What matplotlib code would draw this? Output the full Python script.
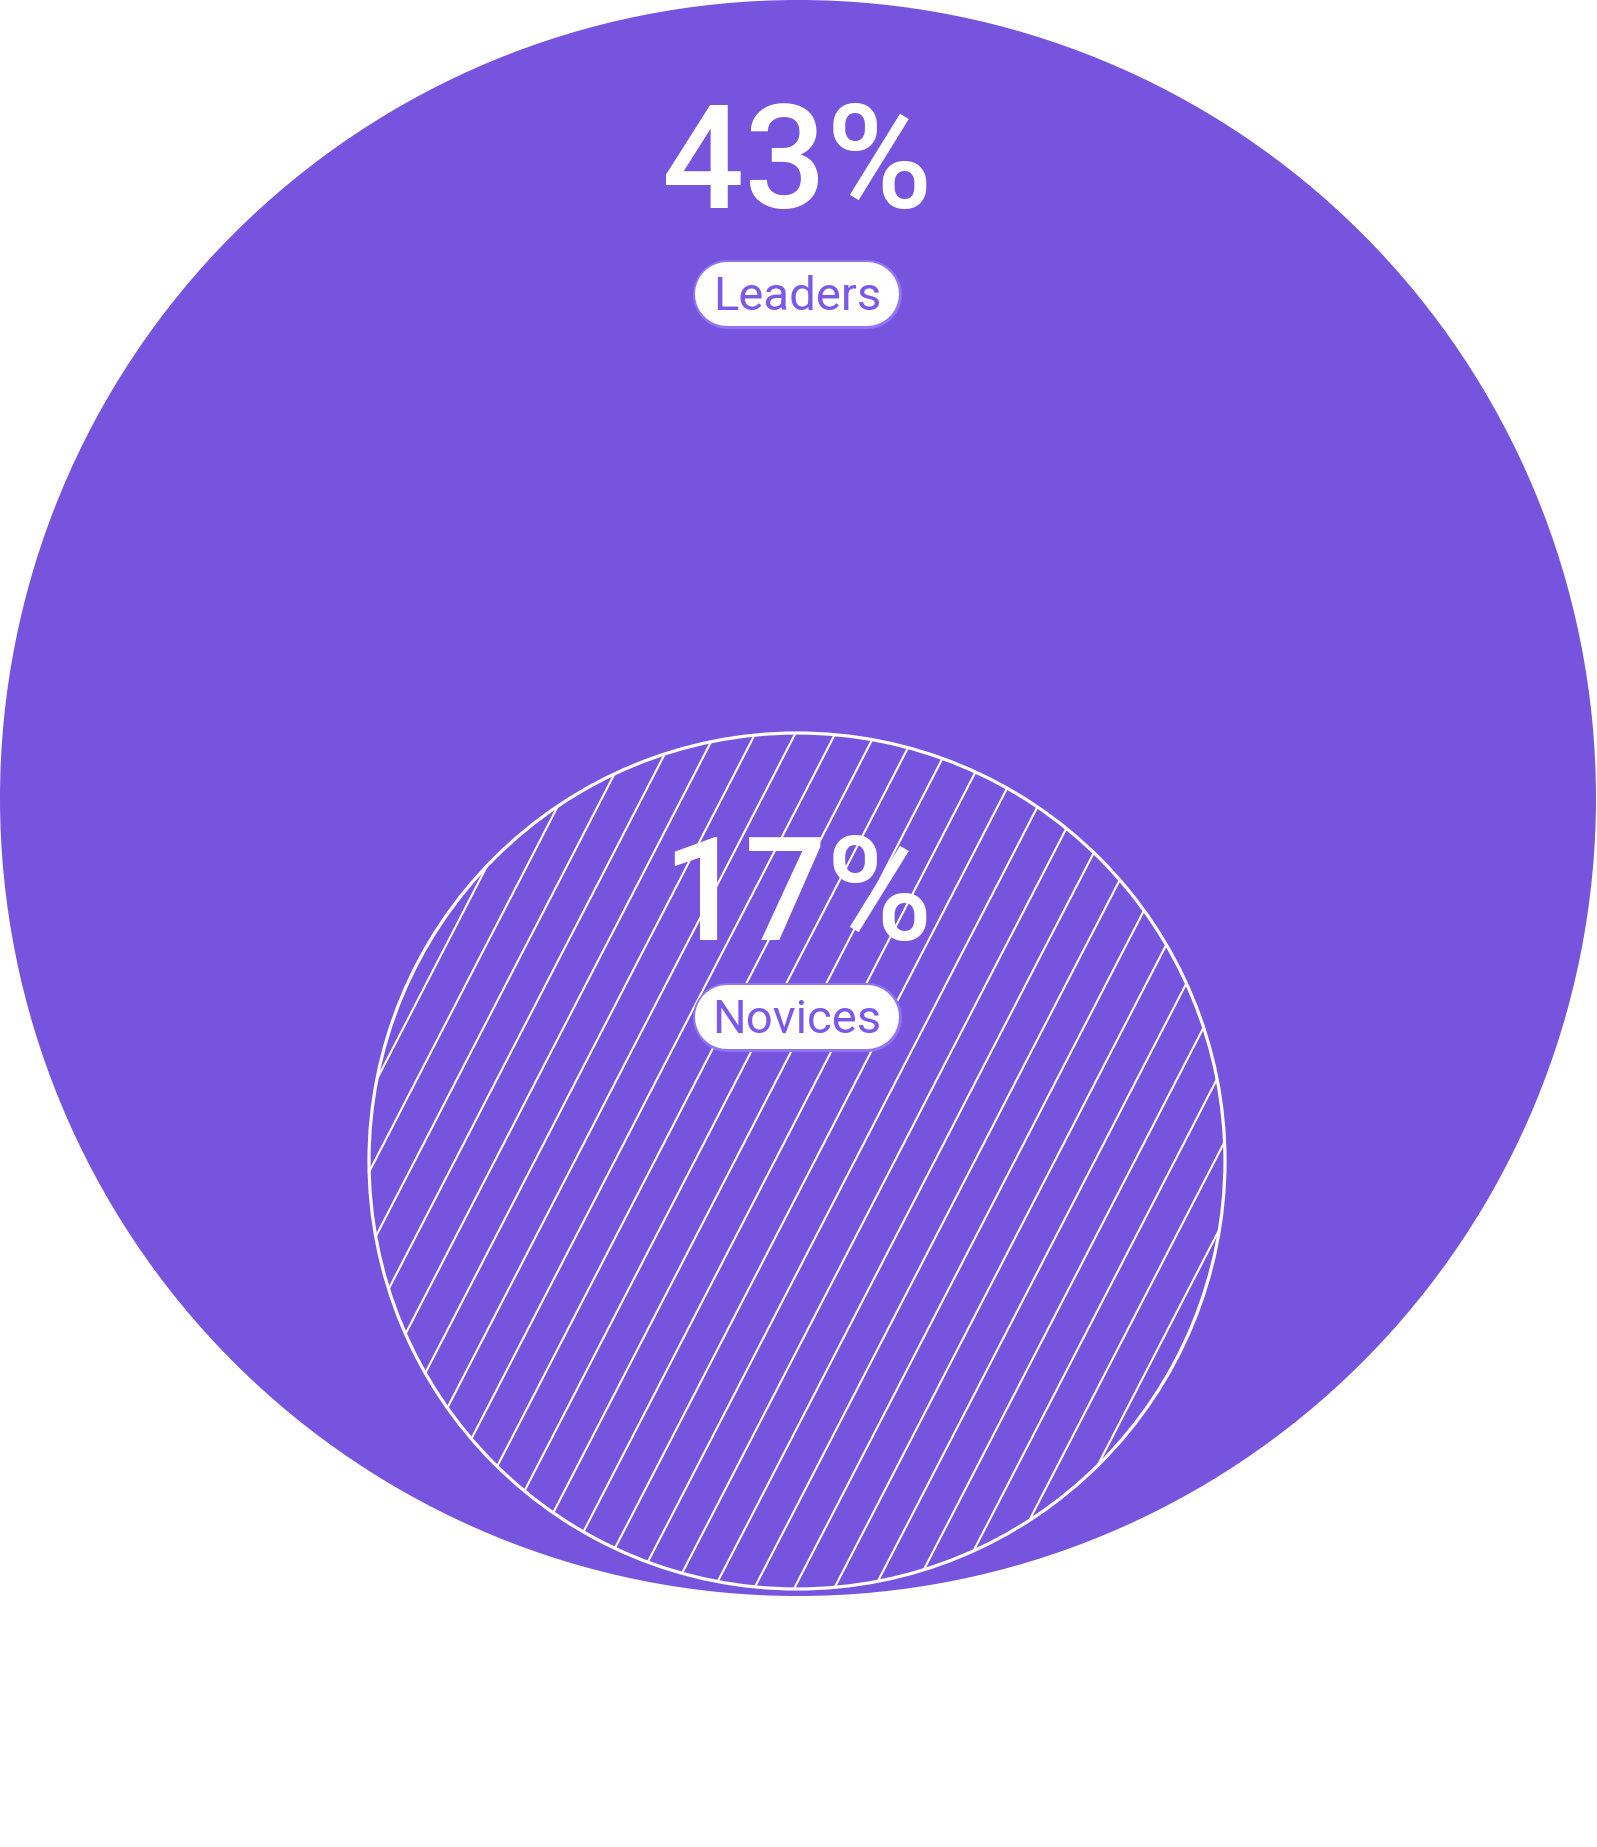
import numpy as np
import matplotlib
matplotlib.use("Agg")
import matplotlib.pyplot as plt
from matplotlib.patches import Circle

# ---- data ----
categories = ["Leaders", "Novices"]
values = [43, 17]
value_labels = [f"{v}%" for v in values]

# ---- layout (pixels, y down) ----
W, H = 1597, 1847
DPI = 100
PX = 72.0 / DPI  # points per pixel
PURPLE = "#7754DE"
TEXT_PURPLE = "#7B58EA"
PILL_EDGE = "#9274F2"
FONT = ["Roboto", "DejaVu Sans"]

circle_centers = [(798, 798), (797, 1161)]
circle_radii = [798, 428]
value_baselines = [208, 940]
pill_centers_y = [293.5, 1016.5]
pill_w, pill_h = 207, 67

fig = plt.figure(figsize=(W / DPI, H / DPI), dpi=DPI)
ax = fig.add_axes([0, 0, 1, 1])
ax.set_xlim(0, W)
ax.set_ylim(H, 0)
ax.set_aspect("equal")
ax.axis("off")

# big circle
big = Circle(circle_centers[0], circle_radii[0], facecolor=PURPLE, edgecolor="none", zorder=1)
ax.add_patch(big)

# small circle with hatch lines
small = Circle(circle_centers[1], circle_radii[1], facecolor=PURPLE, edgecolor="none", zorder=2)
ax.add_patch(small)
cx, cy = circle_centers[1]
r = circle_radii[1]
slope = 0.516          # dx per unit of upward dy
x_anchor, y_anchor = 423.0, 1300.0
step = 40.0
y0, y1 = cy + r + 10, cy - r - 10
for k in range(-40, 40):
    xa = x_anchor + step * k
    xs = [xa + (y_anchor - y0) * slope, xa + (y_anchor - y1) * slope]
    ln, = ax.plot(xs, [y0, y1], color="white", lw=1.5, zorder=3, solid_capstyle="butt")
    ln.set_clip_path(small)
outline = Circle(circle_centers[1], circle_radii[1], facecolor="none", edgecolor="white", lw=2.3, zorder=4)
ax.add_patch(outline)

# value texts and pills
for i, (cat, lab) in enumerate(zip(categories, value_labels)):
    xc = circle_centers[0][0] - 1
    ax.text(xc, value_baselines[i], lab, ha="center", va="baseline",
            fontsize=104, color="white", family=FONT, weight="medium", zorder=6)
    yc = pill_centers_y[i]
    xl, xr = xc - pill_w / 2 + pill_h / 2, xc + pill_w / 2 - pill_h / 2
    ax.plot([xl, xr], [yc, yc], color=PILL_EDGE, lw=(pill_h + 2) * PX,
            solid_capstyle="round", zorder=6)
    ax.plot([xl, xr], [yc, yc], color="white", lw=(pill_h - 3) * PX,
            solid_capstyle="round", zorder=6.5)
    ax.text(xc, yc + 16.5, cat, ha="center", va="baseline",
            fontsize=34, color=TEXT_PURPLE, family=FONT, weight="normal", zorder=7)

fig.savefig("out.png", dpi=DPI, facecolor="white")
